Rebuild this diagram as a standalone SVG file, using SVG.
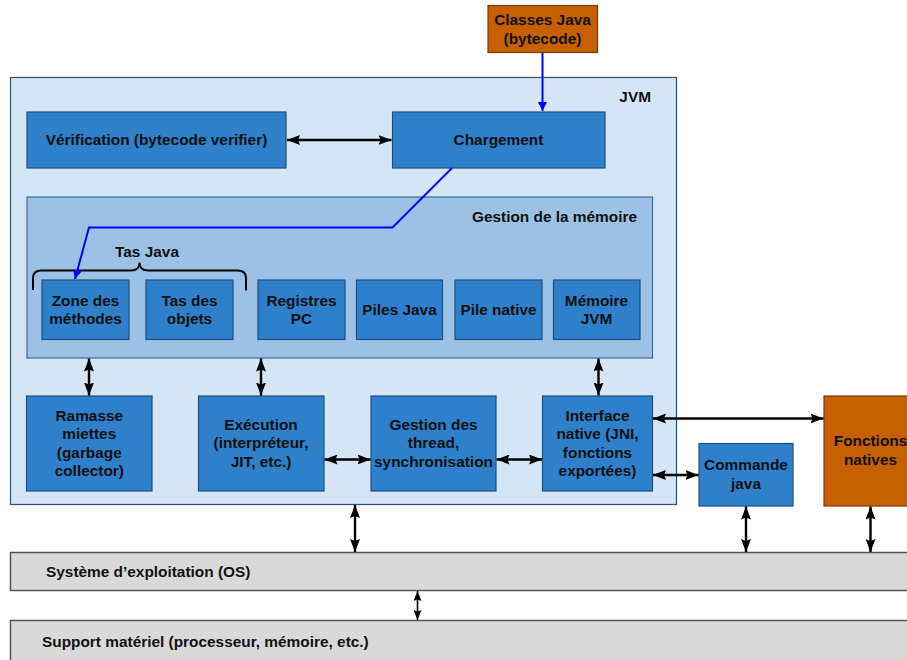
<svg xmlns="http://www.w3.org/2000/svg" width="907" height="660" viewBox="0 0 907 660">
<defs>
<style>
text{font-family:"Liberation Sans",Arial,sans-serif;font-weight:bold;font-size:15.4px;fill:#111}
.c{text-anchor:middle}
.blue{fill:#2e80cb;stroke:#1c4f80;stroke-width:1.2}
.orange{fill:#c55f00;stroke:#7a3b00;stroke-width:1.2}
.gray{fill:#d9d9d9;stroke:#555;stroke-width:1.5}
.conn{stroke:#000;stroke-width:2.4;fill:none;marker-start:url(#ah);marker-end:url(#ah)}
.sm{stroke:#000;stroke-width:1.6;fill:none;marker-start:url(#sh);marker-end:url(#sh)}
.bl{stroke:#0000ff;stroke-width:2;fill:none;marker-end:url(#bh)}
</style>
<marker id="ah" viewBox="0 0 13 10" refX="13" refY="5" markerWidth="13" markerHeight="10" markerUnits="userSpaceOnUse" orient="auto-start-reverse">
<path d="M0,0 L13,5 L0,10 L2,5 z" fill="#000"/>
</marker>
<marker id="sh" viewBox="0 0 10 8" refX="10" refY="4" markerWidth="10" markerHeight="8" markerUnits="userSpaceOnUse" orient="auto-start-reverse">
<path d="M0,0 L10,4 L0,8 L1.5,4 z" fill="#000"/>
</marker>
<marker id="bh" viewBox="0 0 10 10" refX="10" refY="5" markerWidth="12" markerHeight="9" markerUnits="userSpaceOnUse" orient="auto">
<path d="M0,0 L10,5 L0,10 z" fill="#0000ff"/>
</marker>
</defs>
<rect width="907" height="660" fill="#fff"/>

<g id="os"><rect class="gray" x="10.5" y="552.5" width="910" height="38"/><text x="46" y="577">Système d’exploitation (OS)</text></g>
<g id="support"><rect class="gray" x="10.5" y="620.5" width="910" height="50"/><text x="42" y="647">Support matériel (processeur, mémoire, etc.)</text></g>

<g id="jvm"><rect x="10.5" y="77.5" width="666" height="427" fill="#d4e6f5" stroke="#2c4f6e" stroke-width="1.2"/><text x="651" y="102" text-anchor="end">JVM</text></g>

<g id="memoire"><rect x="27" y="197" width="625.5" height="161" fill="#9bc2e6" stroke="#3c6a93" stroke-width="1.2"/><text x="637" y="222" text-anchor="end">Gestion de la mémoire</text></g>

<g id="classes"><rect class="orange" x="488" y="5.5" width="109.5" height="47"/><text class="c" x="542.5" y="25">Classes Java</text><text class="c" x="542.5" y="43.5">(bytecode)</text></g>

<g id="verification"><rect class="blue" x="27" y="112" width="259" height="56"/><text class="c" x="156.5" y="145">Vérification (bytecode verifier)</text></g>
<g id="chargement"><rect class="blue" x="392.5" y="112" width="212.5" height="56"/><text class="c" x="498.5" y="145">Chargement</text></g>

<g id="tasjava"><text class="c" x="147" y="257">Tas Java</text>
<path d="M33,290 L33,278 Q33,270.5 41,270.5 L131,270.5 Q139.5,270.5 139.5,262.5 Q139.5,270.5 148,270.5 L238,270.5 Q246,270.5 246,278 L246,290.5" fill="none" stroke="#000" stroke-width="2"/></g>

<g id="zone"><rect class="blue" x="42" y="280" width="87" height="59.5"/><text class="c" x="85.5" y="305.5">Zone des</text><text class="c" x="85.5" y="324">méthodes</text></g>
<g id="tasobjets"><rect class="blue" x="146" y="280" width="87" height="59.5"/><text class="c" x="189.5" y="305.5">Tas des</text><text class="c" x="189.5" y="324">objets</text></g>
<g id="registres"><rect class="blue" x="258" y="280" width="87" height="59.5"/><text class="c" x="301.5" y="305.5">Registres</text><text class="c" x="301.5" y="324">PC</text></g>
<g id="piles"><rect class="blue" x="356.5" y="280" width="86" height="59.5"/><text class="c" x="399.5" y="315">Piles Java</text></g>
<g id="pilenative"><rect class="blue" x="455" y="280" width="87" height="59.5"/><text class="c" x="498.5" y="315">Pile native</text></g>
<g id="memjvm"><rect class="blue" x="553.5" y="280" width="86.5" height="59.5"/><text class="c" x="596.5" y="305.5">Mémoire</text><text class="c" x="596.5" y="324">JVM</text></g>

<g id="ramasse"><rect class="blue" x="26.5" y="396" width="125.5" height="95"/><text class="c" x="89.3" y="420.5">Ramasse</text><text class="c" x="89.3" y="439">miettes</text><text class="c" x="89.3" y="457.5">(garbage</text><text class="c" x="89.3" y="476">collector)</text></g>
<g id="execution"><rect class="blue" x="198.5" y="396" width="125.5" height="95"/><text class="c" x="261" y="429.5">Exécution</text><text class="c" x="261" y="448">(interpréteur,</text><text class="c" x="261" y="466.5">JIT, etc.)</text></g>
<g id="thread"><rect class="blue" x="371" y="396" width="125" height="95"/><text class="c" x="433.5" y="429.5">Gestion des</text><text class="c" x="433.5" y="448">thread,</text><text class="c" x="433.5" y="466.5">synchronisation</text></g>
<g id="interface"><rect class="blue" x="542.5" y="396" width="110" height="95"/><text class="c" x="597.5" y="420.5">Interface</text><text class="c" x="597.5" y="439">native (JNI,</text><text class="c" x="597.5" y="457.5">fonctions</text><text class="c" x="597.5" y="476">exportées)</text></g>
<g id="commande"><rect class="blue" x="699" y="443.5" width="94" height="62.5"/><text class="c" x="746" y="470">Commande</text><text class="c" x="746" y="489">java</text></g>
<g id="fonctions"><rect class="orange" x="824" y="396" width="94" height="110"/><text class="c" x="870.5" y="446">Fonctions</text><text class="c" x="870.5" y="465">natives</text></g>

<g id="connectors">
<path class="bl" d="M542.5,53 L542.5,111"/>
<path class="bl" d="M452,168 L392.5,227.5 L89,227.5 L75,279"/>
<path class="conn" d="M287,140 L391.5,140"/>
<path class="conn" d="M89,358.5 L89,395.5"/>
<path class="conn" d="M261,358.5 L261,395.5"/>
<path class="conn" d="M598.5,358.5 L598.5,395.5"/>
<path class="conn" d="M324.5,459.5 L370.5,459.5"/>
<path class="conn" d="M496.5,459.5 L542,459.5"/>
<path class="conn" d="M653,418.5 L823.5,418.5"/>
<path class="conn" d="M653,475 L698.5,475"/>
<path class="conn" d="M355,505 L355,552"/>
<path class="conn" d="M746,506.5 L746,552"/>
<path class="conn" d="M870.5,506.5 L870.5,552"/>
<path class="sm" d="M417.5,591 L417.5,620"/>
</g>
</svg>
